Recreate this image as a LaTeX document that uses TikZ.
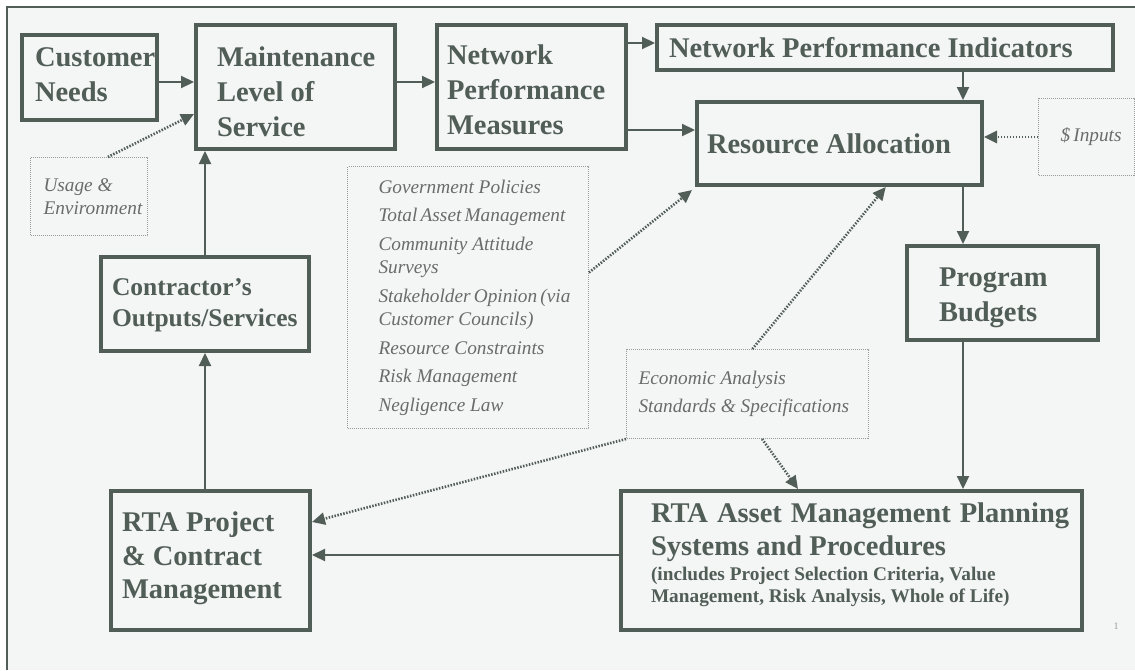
\documentclass[tikz,border=0pt]{standalone}
\usepackage{fontspec}
\setmainfont{Liberation Serif}
\usepackage{tikz}
\usetikzlibrary{calc,arrows.meta}

\definecolor{ink}{HTML}{515D57}
\definecolor{paper}{HTML}{F4F5F5}
\definecolor{soft}{HTML}{6A6B6B}
\definecolor{rim}{HTML}{9A9C9B}

\hyphenpenalty=10000
\exhyphenpenalty=10000
\lefthyphenmin=62

\begin{document}
\begin{tikzpicture}[x=1pt, y=-1pt,
    blk/.style={draw=ink, line width=4pt, text=ink, anchor=north west, align=flush left, inner ysep=0pt,
        font=\bfseries\fontsize{28.5}{35}\selectfont},
    note/.style={draw=rim, densely dotted, line width=1pt, text=soft, anchor=north west, align=flush left, inner ysep=0pt,
        font=\itshape\fontsize{19.3}{23.5}\selectfont},
    lift/.style={execute at end node={\endgraf\vspace*{#1}}},
    arr/.style={draw=ink, line width=2.2pt, -{Triangle[length=13pt,width=12pt]}},
    dots/.style={arr, line width=2.6pt, dash pattern=on 1.5pt off 1.5pt}]
    \useasboundingbox (0,0) rectangle (1135,670);
    \fill[white] (0,0) rectangle (1135,670);
    \fill[paper] (7,7) rectangle (1135,670);
    \draw[ink, line width=2pt] (7,670) -- (7,7) -- (1135,7);

    % solid boxes
    \node[blk, lift=5pt, minimum width=135pt, minimum height=85pt, text width=109pt, inner xsep=13pt] (cust) at (20,33) {Customer\\Needs};
    \node[blk, lift=-10pt, minimum width=199pt, minimum height=124pt, text width=157pt, inner xsep=21pt] (mls) at (194,23) {Maintenance\\Level of\\Service};
    \node[blk, lift=-6.5pt, minimum width=189pt, minimum height=124pt, text width=169pt, inner xsep=10pt] (npm) at (435,23) {Network\\Performance\\Measures};
    \node[blk, lift=-6pt, minimum width=456pt, minimum height=45pt, text width=432pt, inner xsep=12pt] (npi) at (655,23) {Network Performance Indicators};
    \node[blk, lift=-4pt, minimum width=285pt, minimum height=83pt, text width=265pt, inner xsep=10pt] (ra) at (695,100) {Resource Allocation};
    \node[blk, lift=-9.4pt, minimum width=191pt, minimum height=94pt, text width=127pt, inner xsep=32pt] (pb) at (905,244) {Program\\Budgets};
    \node[blk, lift=-3.4pt, minimum width=208pt, minimum height=94pt, text width=186pt, inner xsep=11pt,
        font=\bfseries\fontsize{25.5}{31}\selectfont] (cos) at (99,255) {Contractor's\\Outputs/Services};
    \node[blk, lift=3.6pt, minimum width=199pt, minimum height=139pt, text width=177pt, inner xsep=11pt,
        font=\bfseries\fontsize{28.5}{33.5}\selectfont] (rpc) at (109,489) {RTA Project\\\& Contract\\Management};
    \node[blk, lift=11.6pt, minimum width=461pt, minimum height=139pt, text width=401pt, inner xsep=30pt,
        font=\bfseries\fontsize{28.5}{33}\selectfont] (rta) at (619,489)
        {{\spaceskip=9pt RTA~Asset~Management~Planning}\\Systems and Procedures\par\vspace{2.5pt}
         {\fontsize{19.3}{22.5}\selectfont (includes Project Selection Criteria, Value\\Management, Risk Analysis, Whole of Life)\par}};

    % dotted boxes
    \node[note, minimum width=117pt, minimum height=78pt, text width=91pt, inner xsep=13pt] (use) at (30,157) {Usage \&\\Environment};
    \node[note, minimum width=241pt, minimum height=262pt, text width=179pt, inner xsep=31pt] (gov) at (347,166)
        {Government Policies\\[5pt]Total~Asset~Management\\[5pt]Community Attitude\\Surveys\\[5pt]Stakeholder~Opinion~(via\\Customer Councils)\\[5pt]Resource Constraints\\[5pt]Risk Management\\[5pt]Negligence Law};
    \node[note, minimum width=96pt, minimum height=77pt, text width=52pt, inner xsep=22pt] (dol) at (1038,98) {\$~Inputs};
    \node[note, minimum width=242pt, minimum height=89pt, text width=218pt, inner xsep=12pt] (eco) at (626,349)
        {Economic Analysis\\[5pt]Standards \& Specifications};

    \node[text=rim, font=\fontsize{10}{10}\selectfont] (pg) at (1116,626) {1};

    \coordinate (spine) at (963,0);

    % connectors
    \draw[arr] ([yshift=-4.5pt]cust.east) -- ([yshift=-4.5pt]cust.east -| mls.west);
    \draw[dots] ($(use.north west)!0.66!(use.north east)$) -- ([yshift=-27pt]mls.west);
    \draw[arr] (cos.north) -- (cos.north |- mls.south);
    \draw[arr] (cos.south |- rpc.north) -- (cos.south);
    \draw[arr] ([yshift=5pt]mls.east) -- ([yshift=5pt]mls.east -| npm.west);
    \draw[arr] ([yshift=44pt]npm.east) -- ([yshift=44pt]npm.east -| npi.west);
    \draw[arr] ([yshift=-43pt]npm.east) -- ([yshift=-43pt]npm.east -| ra.west);
    \draw[arr] (spine |- npi.south) -- (spine |- ra.north);
    \draw[dots] (dol.west) -- (dol.west -| ra.east);
    \draw[arr] (spine |- ra.south) -- (spine |- pb.north);
    \draw[arr] (spine |- pb.south) -- (spine |- rta.north);
    \draw[dots] ([yshift=25pt]gov.east) -- ([shift={(-3pt,-3pt)}]ra.south west);
    \draw[dots] ($(eco.north west)!0.52!(eco.north east)$) -- ($(ra.south west)!0.66!(ra.south east)$);
    \draw[dots] (eco.south west) -- ([yshift=38.5pt]rpc.east);
    \draw[dots] ($(eco.south west)!0.56!(eco.south east)$) -- ($(rta.north west)!0.385!(rta.north east)$);
    \draw[arr] ([yshift=5.5pt]rta.west) -- ([yshift=5.5pt]rta.west -| rpc.east);
\end{tikzpicture}
\end{document}
